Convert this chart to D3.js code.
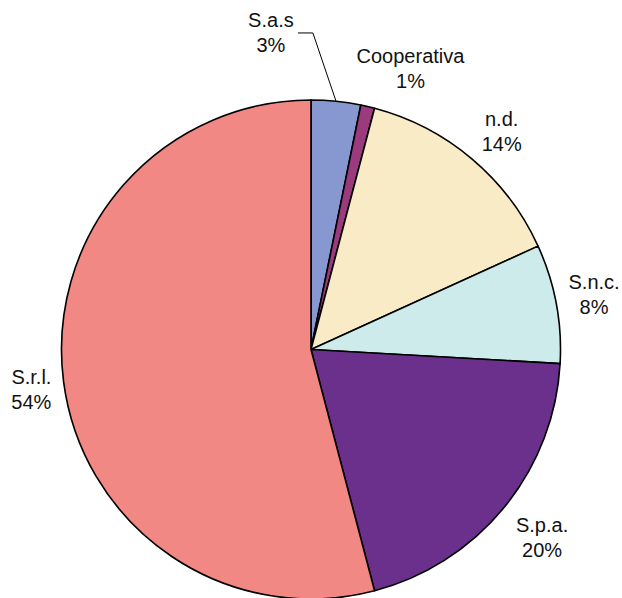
<!DOCTYPE html>
<html>
<head>
<meta charset="utf-8">
<script src="https://cdn.jsdelivr.net/npm/d3@7"></script>
<style>
  body { margin: 0; background: #fff; }
  svg text { font-family: "Liberation Sans", Arial, sans-serif; font-size: 20px; fill: #111; }
</style>
</head>
<body>
<svg id="chart" width="622" height="598"></svg>
<script>
// slices, clockwise from 12 o'clock
var categories = ["S.a.s", "Cooperativa", "n.d.", "S.n.c.", "S.p.a.", "S.r.l."];
var shares = [3.2, 0.9, 14.1, 7.7, 20.0, 54.1];
var colors = ["#8797d0", "#9b3a7c", "#f8ebc6", "#cdebea", "#6b2f8c", "#f28884"];
// nudges of each label away from its default spot
var labelNudge = [[-69, -29], [34, 1], [5, 4], [0, 0], [8, 7], [6, 5]];

var svg = d3.select("#chart"),
    cx = 311, cy = 349.5,
    radius = 249.5,
    labelRadius = 288;

var g = svg.append("g").attr("transform", "translate(" + cx + "," + cy + ")");

var pie = d3.pie().sort(null).value(function(d) { return d; });
var arcs = pie(shares);

var arc = d3.arc().innerRadius(0).outerRadius(radius);
var labelArc = d3.arc().innerRadius(labelRadius).outerRadius(labelRadius);
var edgeArc = d3.arc().innerRadius(radius).outerRadius(radius);

g.selectAll(".slice")
  .data(arcs)
  .enter().append("path")
  .attr("class", "slice")
  .attr("d", arc)
  .attr("fill", function(d, i) { return colors[i]; })
  .attr("stroke", "#000")
  .attr("stroke-width", 1.6)
  .attr("stroke-linejoin", "round");

// label positions
var spots = arcs.map(function(d, i) {
  var c = labelArc.centroid(d);
  return [c[0] + labelNudge[i][0], c[1] + labelNudge[i][1]];
});

// leader line for the small S.a.s slice
var start = edgeArc.centroid(arcs[0]);
var s0 = spots[0];
g.append("path")
  .attr("d", d3.line()([start, [s0[0] + 42, s0[1] - 1], [s0[0] + 27, s0[1] - 1]]))
  .attr("fill", "none")
  .attr("stroke", "#000")
  .attr("stroke-width", 1);

var labels = g.selectAll(".label")
  .data(arcs)
  .enter().append("text")
  .attr("class", "label")
  .attr("text-anchor", "middle")
  .attr("transform", function(d, i) { return "translate(" + spots[i][0] + "," + spots[i][1] + ")"; });

labels.append("tspan")
  .attr("x", 0).attr("y", -7)
  .text(function(d, i) { return categories[i]; });

labels.append("tspan")
  .attr("x", 0).attr("y", 18)
  .text(function(d) { return Math.round(d.data) + "%"; });
</script>
</body>
</html>
